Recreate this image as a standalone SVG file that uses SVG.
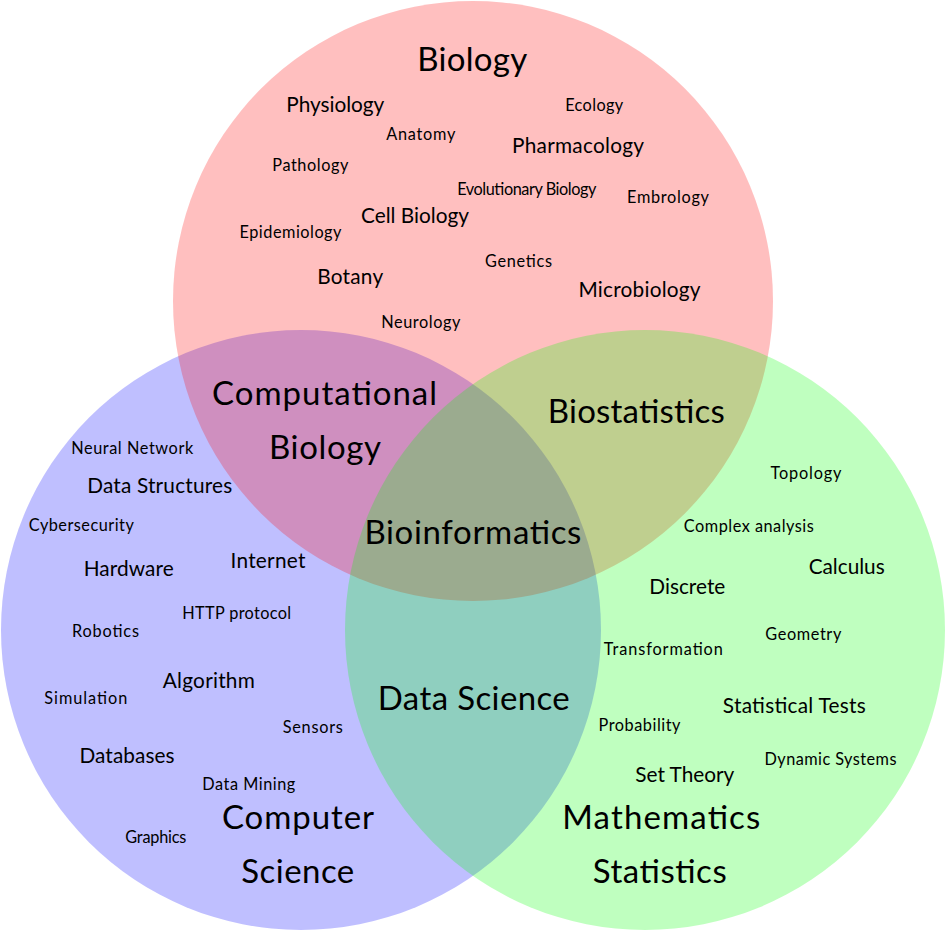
<svg xmlns="http://www.w3.org/2000/svg" width="946" height="932" viewBox="0 0 946 932">
<style>
text{font-family:Lato,"Open Sans","Liberation Sans",sans-serif;fill:#000;text-anchor:middle}
.s{font-size:16.3px}
.m{font-size:20.8px}
.b{font-size:33px}
.c{fill-opacity:0.25;stroke:none}
</style>
<rect width="946" height="932" fill="#fff"/>
<g id="circles">
<circle id="computer-science" class="c" cx="301" cy="630" r="300" fill="#0000ff"/>
<circle id="biology" class="c" cx="473" cy="301" r="300" fill="#ff0000"/>
<circle id="mathematics" class="c" cx="645" cy="630" r="300" fill="#00ff00"/>
</g>
<g id="biology-labels">
<text class="b" x="472.2" y="71" textLength="110">Biology</text>
<text class="m" x="335.3" y="112.3" textLength="98">Physiology</text>
<text class="s" x="594.2" y="111" textLength="58">Ecology</text>
<text class="s" x="420.8" y="140" textLength="69">Anatomy</text>
<text class="m" x="578" y="152.7" textLength="132">Pharmacology</text>
<text class="s" x="310.3" y="171" textLength="76">Pathology</text>
<text class="s" x="526.8" y="195" textLength="139">Evolutionary Biology</text>
<text class="s" x="668" y="203.3" textLength="82">Embrology</text>
<text class="m" x="415" y="222.7" textLength="108">Cell Biology</text>
<text class="s" x="290.5" y="237.7" textLength="102">Epidemiology</text>
<text class="s" x="518.5" y="266.7" textLength="67">Genetics</text>
<text class="m" x="350.2" y="284.3" textLength="66">Botany</text>
<text class="m" x="639.5" y="297.3" textLength="122">Microbiology</text>
<text class="s" x="420.8" y="328.3" textLength="79">Neurology</text>
</g>
<g id="computer-science-labels">
<text class="s" x="132.2" y="454" textLength="122">Neural Network</text>
<text class="m" x="159.7" y="493.3" textLength="145">Data Structures</text>
<text class="s" x="81.3" y="531" textLength="105">Cybersecurity</text>
<text class="m" x="128.7" y="575.7" textLength="90">Hardware</text>
<text class="m" x="268" y="568.3" textLength="75">Internet</text>
<text class="s" x="236.7" y="619.3" textLength="109">HTTP protocol</text>
<text class="s" x="105.5" y="637.3" textLength="67">Robotics</text>
<text class="m" x="208.8" y="688.3" textLength="92">Algorithm</text>
<text class="s" x="85.8" y="704" textLength="83">Simulation</text>
<text class="s" x="312.8" y="732.7" textLength="60">Sensors</text>
<text class="m" x="127" y="763.3" textLength="95">Databases</text>
<text class="s" x="248.8" y="790" textLength="93">Data Mining</text>
<text class="s" x="155.8" y="843.3" textLength="61">Graphics</text>
<text class="b" x="298" y="829.3" textLength="152">Computer</text>
<text class="b" x="297.8" y="882.7" textLength="113">Science</text>
</g>
<g id="mathematics-labels">
<text class="s" x="806" y="479.3" textLength="71">Topology</text>
<text class="s" x="748.8" y="532.3" textLength="130">Complex analysis</text>
<text class="m" x="846.7" y="574.3" textLength="76">Calculus</text>
<text class="m" x="687.3" y="594.3" textLength="76">Discrete</text>
<text class="s" x="803.3" y="640" textLength="76">Geometry</text>
<text class="s" x="663.3" y="654.7" textLength="119">Transformation</text>
<text class="m" x="794.3" y="713.3" textLength="143">Statistical Tests</text>
<text class="s" x="639.5" y="730.7" textLength="82">Probability</text>
<text class="s" x="830.5" y="765" textLength="132">Dynamic Systems</text>
<text class="m" x="684.8" y="781.7" textLength="99">Set Theory</text>
<text class="b" x="661.3" y="829.3" textLength="198">Mathematics</text>
<text class="b" x="659.7" y="882.7" textLength="134">Statistics</text>
</g>
<g id="overlap-labels">
<text class="b" x="324.5" y="405" textLength="225">Computational</text>
<text class="b" x="325" y="459" textLength="112">Biology</text>
<text class="b" x="636.3" y="422.5" textLength="177">Biostatistics</text>
<text class="b" x="472.9" y="544.3" textLength="217">Bioinformatics</text>
<text class="b" x="473.8" y="710" textLength="192">Data Science</text>
</g>
</svg>
